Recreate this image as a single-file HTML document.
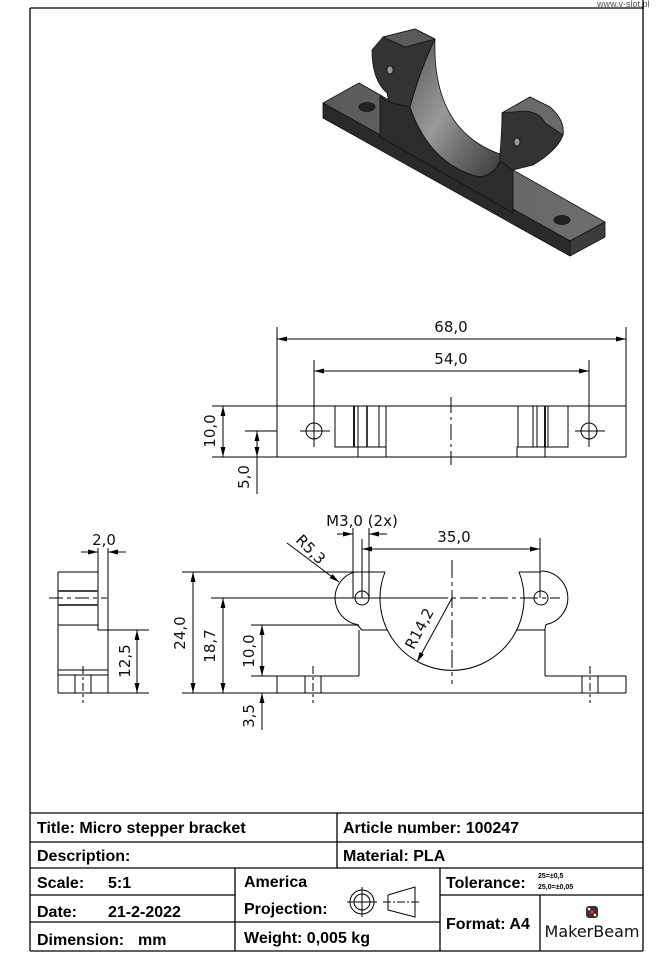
<!DOCTYPE html>
<html><head><meta charset="utf-8"><style>
html,body{margin:0;padding:0;background:#fff;}
svg{display:block;}
.d{font-family:"DejaVu Sans","Liberation Sans",sans-serif;font-size:15px;fill:#111;}
.t{font-family:"Liberation Sans",sans-serif;font-weight:bold;font-size:16px;fill:#000;}
</style></head><body>
<svg width="668" height="963" viewBox="0 0 668 963" xmlns="http://www.w3.org/2000/svg">
<defs>
<marker id="a" markerWidth="10" markerHeight="6" refX="10" refY="3" orient="auto-start-reverse" markerUnits="userSpaceOnUse"><path d="M0,0.5 L10,3 L0,5.5Z" fill="#000"/></marker>
<linearGradient id="cyl" x1="0" y1="0" x2="1" y2="1"><stop offset="0" stop-color="#555"/><stop offset="0.45" stop-color="#9a9a9a"/><stop offset="0.7" stop-color="#6a6a6a"/><stop offset="1" stop-color="#3a3a3a"/></linearGradient>
<linearGradient id="top" x1="0" y1="0" x2="1" y2="0"><stop offset="0" stop-color="#5a5a5a"/><stop offset="1" stop-color="#6e6e6e"/></linearGradient>
</defs>
<rect width="668" height="963" fill="#fff"/>
<text x="597" y="7" font-family="Liberation Sans,sans-serif" font-size="9" fill="#555">www.v-slot.pl</text>
<g stroke="#000" fill="none" stroke-width="1.3">
<line x1="30" y1="8" x2="643" y2="8"/>
<line x1="30" y1="8" x2="30" y2="951"/>
<line x1="643" y1="0" x2="643" y2="951"/>
<line x1="30" y1="951" x2="643" y2="951"/>
</g>

<!-- 3D render -->
<g stroke="#111" stroke-width="0.8" stroke-linejoin="round">
<polygon points="323,103 359,83 605,222 570,241" fill="url(#top)"/>
<polygon points="323,103 570,241 570,256 323,118" fill="#2a2a2a"/>
<polygon points="570,241 605,222 605,237 570,256" fill="#3c3c3c"/>
<ellipse cx="367" cy="107" rx="8" ry="4.5" fill="#222"/>
<ellipse cx="562" cy="220" rx="8" ry="4.5" fill="#222"/>
<path d="M380,96 L389,102 L410,107 Q430,165 480,177 Q495,174 500,161 L513,168 L513,213 L380,137Z" fill="#2c2c2c"/>
<path d="M435,39 Q432,130 500,154 L500,161 Q495,174 480,177 Q430,165 410,107 Q420,70 435,39Z" fill="url(#cyl)"/>
<path d="M372,50 L383,37 L415,29 L435,39 Q420,70 410,107 L389,102 L387,93 Q372,80 372,50Z" fill="#333"/>
<polygon points="383,37 415,29 435,39 405,47" fill="#5a5a5a"/>
<ellipse cx="390" cy="70" rx="3" ry="4" fill="#999"/>
<path d="M502,113 L530,97 L550,107 Q565,120 563,135 Q558,150 533,165 L513,170 L500,161 L500,154 Q502,130 502,113Z" fill="#333"/>
<path d="M502,113 L530,97 L550,107 Q565,120 563,135 L545,123 Q540,112 524,111Z" fill="#6a6a6a"/>
<ellipse cx="517" cy="142" rx="3" ry="4" fill="#999"/>
</g>

<!-- TOP VIEW -->
<g stroke="#000" stroke-width="1" fill="none">
<line x1="212" y1="406" x2="626" y2="406"/>
<line x1="212" y1="457" x2="626" y2="457"/>
<line x1="277" y1="327" x2="277" y2="457"/>
<line x1="626" y1="327" x2="626" y2="457"/>
<line x1="314" y1="360" x2="314" y2="447"/>
<line x1="589" y1="360" x2="589" y2="447"/>
<line x1="300" y1="431" x2="330" y2="431"/>
<line x1="575" y1="431" x2="605" y2="431"/>
<circle cx="314" cy="431" r="8"/>
<circle cx="589" cy="431" r="8"/>
<line x1="451" y1="397" x2="451" y2="465" stroke-dasharray="16,4,3,4"/>
<rect x="335" y="406" width="51" height="41"/>
<line x1="354" y1="406" x2="354" y2="447" stroke-width="1.8"/>
<line x1="358" y1="406" x2="358" y2="447"/>
<line x1="367" y1="406" x2="367" y2="447" stroke-width="1.5"/>
<line x1="379" y1="406" x2="379" y2="447"/>
<rect x="358" y="447" width="28" height="10"/>
<rect x="518" y="406" width="50" height="41"/>
<line x1="533" y1="406" x2="533" y2="447"/>
<line x1="537" y1="406" x2="537" y2="447"/>
<line x1="545" y1="406" x2="545" y2="447" stroke-width="1.8"/>
<line x1="548" y1="406" x2="548" y2="447"/>
<rect x="517" y="447" width="28" height="10"/>
<line x1="277" y1="339" x2="626" y2="339" marker-start="url(#a)" marker-end="url(#a)"/>
<line x1="314" y1="371" x2="589" y2="371" marker-start="url(#a)" marker-end="url(#a)"/>
<line x1="223" y1="406" x2="223" y2="457" marker-start="url(#a)" marker-end="url(#a)"/>
<line x1="245" y1="431" x2="277" y2="431"/>
<line x1="257" y1="431" x2="257" y2="457" marker-start="url(#a)" marker-end="url(#a)"/>
<line x1="257" y1="457" x2="257" y2="494"/>
</g>
<text class="d" x="451" y="332" text-anchor="middle">68,0</text>
<text class="d" x="451" y="364" text-anchor="middle">54,0</text>
<text class="d" transform="translate(215,431) rotate(-90)" text-anchor="middle">10,0</text>
<text class="d" transform="translate(249,477) rotate(-90)" text-anchor="middle">5,0</text>

<!-- SIDE VIEW -->
<g stroke="#000" stroke-width="1" fill="none">
<line x1="58" y1="572" x2="98" y2="572"/>
<line x1="58" y1="572" x2="58" y2="693"/>
<line x1="98" y1="548" x2="98" y2="630"/>
<line x1="108" y1="548" x2="108" y2="693"/>
<line x1="98" y1="630" x2="149" y2="630"/>
<line x1="58" y1="693" x2="149" y2="693"/>
<line x1="58" y1="591" x2="98" y2="591" stroke-width="2" stroke="#444"/>
<line x1="58" y1="605" x2="98" y2="605" stroke-width="2" stroke="#444"/>
<line x1="58" y1="625" x2="98" y2="625"/>
<line x1="58" y1="670" x2="108" y2="670"/>
<line x1="58" y1="675" x2="108" y2="675"/>
<line x1="75" y1="675" x2="75" y2="693"/>
<line x1="91" y1="675" x2="91" y2="693"/>
<line x1="83" y1="666" x2="83" y2="703" stroke-dasharray="8,3,3,3"/>
<line x1="49" y1="598" x2="107" y2="598" stroke-dasharray="14,4,4,4"/>
<line x1="81" y1="552" x2="98" y2="552" marker-end="url(#a)"/>
<line x1="126" y1="552" x2="108" y2="552" marker-end="url(#a)"/>
<line x1="137" y1="630" x2="137" y2="693" marker-start="url(#a)" marker-end="url(#a)"/>
</g>
<text class="d" x="104" y="545" text-anchor="middle">2,0</text>
<text class="d" transform="translate(130,661) rotate(-90)" text-anchor="middle">12,5</text>

<!-- FRONT VIEW -->
<g stroke="#000" stroke-width="1" fill="none">
<line x1="182" y1="572" x2="385" y2="572"/>
<line x1="519" y1="572" x2="541" y2="572"/>
<path d="M354,572.2 A27,27 0 0,0 357,624.5 Q360,628 362,630 L387,630"/>
<path d="M541,571 A27,27 0 0,1 546,624.5 Q545,628 545,630 L516,630"/>
<path d="M385,572 A72,72 0 1,0 519,572"/>
<circle cx="362" cy="598" r="7"/>
<circle cx="541" cy="598" r="7"/>
<line x1="359" y1="630" x2="359" y2="676"/>
<line x1="545" y1="630" x2="545" y2="676"/>
<line x1="251" y1="625" x2="359" y2="625"/>
<line x1="251" y1="676" x2="359" y2="676"/>
<line x1="545" y1="676" x2="626" y2="676"/>
<line x1="277" y1="676" x2="277" y2="693"/>
<line x1="626" y1="676" x2="626" y2="693"/>
<line x1="182" y1="693" x2="626" y2="693"/>
<line x1="305" y1="676" x2="305" y2="693"/>
<line x1="321" y1="676" x2="321" y2="693"/>
<line x1="582" y1="676" x2="582" y2="693"/>
<line x1="598" y1="676" x2="598" y2="693"/>
<line x1="313" y1="666" x2="313" y2="703" stroke-dasharray="8,3,3,3"/>
<line x1="590" y1="666" x2="590" y2="703" stroke-dasharray="8,3,3,3"/>
<line x1="211" y1="598" x2="430" y2="598"/>
<line x1="430" y1="598" x2="560" y2="598" stroke-dasharray="18,4,4,4"/>
<line x1="452" y1="560" x2="452" y2="684" stroke-dasharray="18,4,4,4"/>
<line x1="193" y1="572" x2="193" y2="693" marker-start="url(#a)" marker-end="url(#a)"/>
<line x1="223" y1="598" x2="223" y2="693" marker-start="url(#a)" marker-end="url(#a)"/>
<line x1="262" y1="625" x2="262" y2="676" marker-start="url(#a)" marker-end="url(#a)"/>
<line x1="262" y1="730" x2="262" y2="693" marker-end="url(#a)"/>
<line x1="353" y1="528" x2="353" y2="598"/>
<line x1="369" y1="528" x2="369" y2="598"/>
<line x1="362" y1="539" x2="362" y2="598"/>
<line x1="337" y1="534" x2="353" y2="534" marker-end="url(#a)"/>
<line x1="387" y1="534" x2="369" y2="534" marker-end="url(#a)"/>
<line x1="540" y1="538" x2="540" y2="598"/>
<line x1="362" y1="549" x2="540" y2="549" marker-start="url(#a)" marker-end="url(#a)"/>
<line x1="287" y1="543" x2="339" y2="582" marker-end="url(#a)"/>
<line x1="452" y1="598" x2="417" y2="662" marker-end="url(#a)"/>
</g>
<text class="d" x="362" y="526" text-anchor="middle">M3,0 (2x)</text>
<text class="d" x="454" y="542" text-anchor="middle">35,0</text>
<text class="d" transform="translate(307,553) rotate(45)" text-anchor="middle">R5,3</text>
<text class="d" transform="translate(424,631) rotate(-62)" text-anchor="middle">R14,2</text>
<text class="d" transform="translate(185,633) rotate(-90)" text-anchor="middle">24,0</text>
<text class="d" transform="translate(215,646) rotate(-90)" text-anchor="middle">18,7</text>
<text class="d" transform="translate(254,651) rotate(-90)" text-anchor="middle">10,0</text>
<text class="d" transform="translate(254,716) rotate(-90)" text-anchor="middle">3,5</text>

<!-- TITLE BLOCK -->
<g stroke="#000" stroke-width="1.3" fill="none">
<line x1="30" y1="813" x2="643" y2="813"/>
<line x1="30" y1="842" x2="643" y2="842"/>
<line x1="30" y1="868" x2="643" y2="868"/>
<line x1="30" y1="895" x2="235" y2="895"/>
<line x1="440" y1="895" x2="643" y2="895"/>
<line x1="30" y1="922" x2="440" y2="922"/>
<line x1="337" y1="813" x2="337" y2="868"/>
<line x1="235" y1="868" x2="235" y2="951"/>
<line x1="440" y1="868" x2="440" y2="951"/>
<line x1="540" y1="895" x2="540" y2="951"/>
</g>
<text class="t" x="37" y="833">Title: Micro stepper bracket</text>
<text class="t" x="343" y="833">Article number: 100247</text>
<text class="t" x="37" y="861">Description:</text>
<text class="t" x="343" y="861">Material: PLA</text>
<text class="t" x="37" y="888">Scale:</text><text class="t" x="108" y="888">5:1</text>
<text class="t" x="37" y="917">Date:</text><text class="t" x="108" y="917">21-2-2022</text>
<text class="t" x="37" y="945">Dimension:</text><text class="t" x="138" y="945">mm</text>
<text class="t" x="244" y="887">America</text>
<text class="t" x="244" y="914">Projection:</text>
<text class="t" x="244" y="943">Weight:  0,005 kg</text>
<text class="t" x="446" y="888" font-size="14">Tolerance:</text>
<text x="538" y="878" font-family="Liberation Sans,sans-serif" font-size="7" font-weight="bold">25=±0,5</text>
<text x="538" y="889" font-family="Liberation Sans,sans-serif" font-size="7" font-weight="bold">25,0=±0,05</text>
<text class="t" x="446" y="929">Format: A4</text>
<text x="592" y="937" font-family="DejaVu Sans,sans-serif" font-size="16" text-anchor="middle" fill="#111">MakerBeam</text>
<g transform="translate(592,912)">
<rect x="-6" y="-6" width="12" height="12" rx="3" fill="#333"/>
<circle cx="0" cy="0" r="2" fill="#e22"/>
<circle cx="-3" cy="-3" r="1.3" fill="#fff"/><circle cx="3" cy="3" r="1.3" fill="#fff"/>
</g>
<g stroke="#000" stroke-width="1" fill="none">
<circle cx="362" cy="902" r="12"/><circle cx="362" cy="902" r="8"/>
<line x1="347" y1="902" x2="377" y2="902"/><line x1="362" y1="887" x2="362" y2="917"/>
<polygon points="388,895 415,887 415,917 388,910"/>
<line x1="383" y1="902" x2="420" y2="902" stroke-dasharray="8,2,2,2"/>
</g>
</svg>
</body></html>
